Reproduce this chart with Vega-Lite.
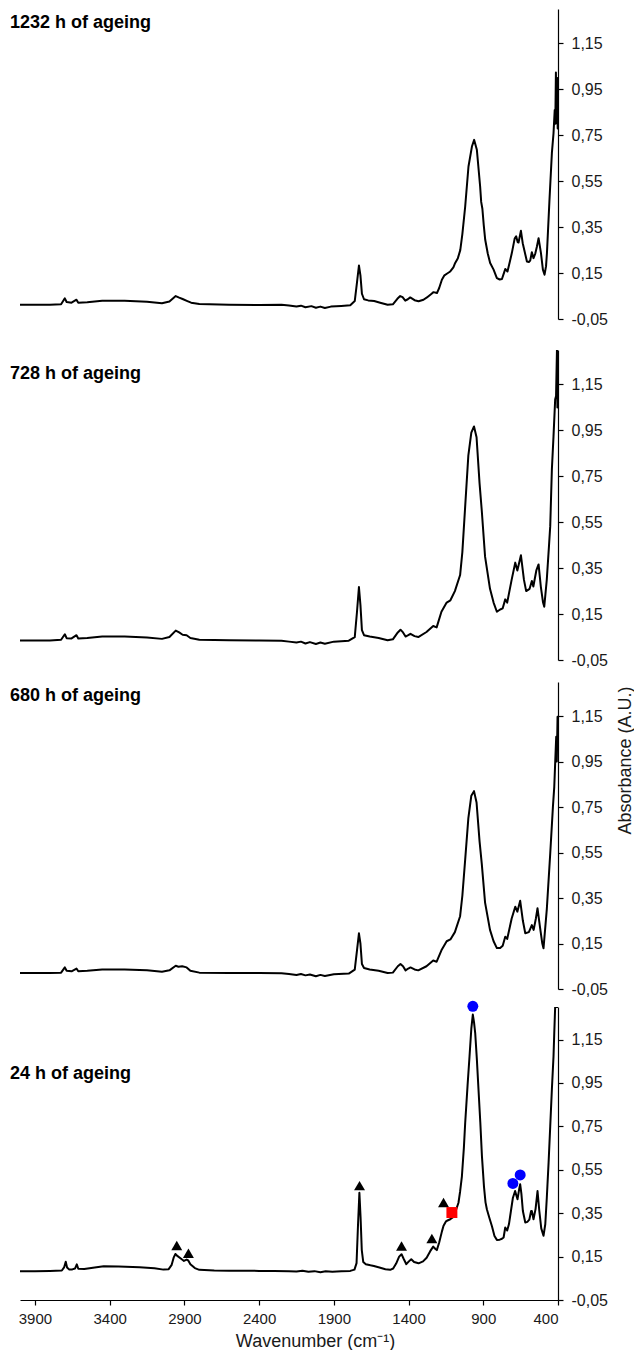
{
  "$schema": "https://vega.github.io/schema/vega-lite/v6.json",
  "padding": {"left": 10, "top": 9, "right": 0, "bottom": 0},
  "config": {
    "font": "Liberation Sans",
    "view": {"stroke": null},
    "axis": {"labelFont": "Liberation Sans", "titleFont": "Liberation Sans", "grid": false, "domainColor": "black", "tickColor": "black", "labelColor": "#1a1a1a", "titleColor": "#1a1a1a", "labelFontSize": 15, "titleFontSize": 18, "titleFontWeight": "normal", "tickSize": 5, "domainWidth": 1.2, "tickWidth": 1.2},
    "axisY": {"labelFontSize": 16},
    "title": {"font": "Liberation Sans", "fontSize": 18, "fontWeight": "bold", "color": "black", "anchor": "start", "frame": "group", "baseline": "middle", "dx": -10}
  },
  "datasets": {
    "h1232": [
      {"wn": 4000, "a": 0.012}, {"wn": 3800, "a": 0.012}, {"wn": 3725, "a": 0.014}, {"wn": 3700, "a": 0.040}, {"wn": 3688, "a": 0.024},
      {"wn": 3655, "a": 0.021}, {"wn": 3622, "a": 0.034}, {"wn": 3610, "a": 0.021}, {"wn": 3550, "a": 0.023}, {"wn": 3450, "a": 0.029},
      {"wn": 3300, "a": 0.029}, {"wn": 3150, "a": 0.025}, {"wn": 3050, "a": 0.019}, {"wn": 3000, "a": 0.026}, {"wn": 2958, "a": 0.050},
      {"wn": 2935, "a": 0.043}, {"wn": 2912, "a": 0.037}, {"wn": 2880, "a": 0.028}, {"wn": 2855, "a": 0.021}, {"wn": 2800, "a": 0.015},
      {"wn": 2600, "a": 0.012}, {"wn": 2400, "a": 0.011}, {"wn": 2250, "a": 0.012}, {"wn": 2200, "a": 0.009}, {"wn": 2150, "a": 0.004},
      {"wn": 2120, "a": 0.008}, {"wn": 2090, "a": 0.001}, {"wn": 2050, "a": 0.006}, {"wn": 2020, "a": -0.001}, {"wn": 1990, "a": 0.004},
      {"wn": 1960, "a": -0.002}, {"wn": 1920, "a": 0.004}, {"wn": 1850, "a": 0.007}, {"wn": 1790, "a": 0.010}, {"wn": 1760, "a": 0.028},
      {"wn": 1745, "a": 0.110}, {"wn": 1732, "a": 0.183}, {"wn": 1722, "a": 0.140}, {"wn": 1712, "a": 0.060}, {"wn": 1698, "a": 0.036},
      {"wn": 1670, "a": 0.031}, {"wn": 1630, "a": 0.028}, {"wn": 1590, "a": 0.021}, {"wn": 1540, "a": 0.012}, {"wn": 1505, "a": 0.014},
      {"wn": 1475, "a": 0.038}, {"wn": 1456, "a": 0.050}, {"wn": 1440, "a": 0.045}, {"wn": 1422, "a": 0.030}, {"wn": 1405, "a": 0.036},
      {"wn": 1389, "a": 0.044}, {"wn": 1360, "a": 0.032}, {"wn": 1333, "a": 0.027}, {"wn": 1300, "a": 0.034}, {"wn": 1277, "a": 0.044},
      {"wn": 1250, "a": 0.058}, {"wn": 1233, "a": 0.067}, {"wn": 1210, "a": 0.063}, {"wn": 1195, "a": 0.085}, {"wn": 1177, "a": 0.121},
      {"wn": 1160, "a": 0.140}, {"wn": 1144, "a": 0.147}, {"wn": 1121, "a": 0.157}, {"wn": 1100, "a": 0.175}, {"wn": 1088, "a": 0.194},
      {"wn": 1070, "a": 0.215}, {"wn": 1054, "a": 0.250}, {"wn": 1040, "a": 0.320}, {"wn": 1021, "a": 0.440}, {"wn": 999, "a": 0.614},
      {"wn": 976, "a": 0.701}, {"wn": 961, "a": 0.730}, {"wn": 943, "a": 0.687}, {"wn": 921, "a": 0.527}, {"wn": 914, "a": 0.460},
      {"wn": 906, "a": 0.430}, {"wn": 897, "a": 0.360}, {"wn": 887, "a": 0.295}, {"wn": 870, "a": 0.235}, {"wn": 854, "a": 0.194},
      {"wn": 831, "a": 0.165}, {"wn": 809, "a": 0.128}, {"wn": 790, "a": 0.122}, {"wn": 775, "a": 0.124}, {"wn": 762, "a": 0.150},
      {"wn": 753, "a": 0.168}, {"wn": 738, "a": 0.157}, {"wn": 722, "a": 0.200}, {"wn": 709, "a": 0.237}, {"wn": 690, "a": 0.300},
      {"wn": 680, "a": 0.310}, {"wn": 670, "a": 0.285}, {"wn": 664, "a": 0.283}, {"wn": 648, "a": 0.334}, {"wn": 636, "a": 0.280},
      {"wn": 626, "a": 0.252}, {"wn": 608, "a": 0.200}, {"wn": 595, "a": 0.198}, {"wn": 586, "a": 0.204}, {"wn": 575, "a": 0.241},
      {"wn": 564, "a": 0.215}, {"wn": 552, "a": 0.235}, {"wn": 541, "a": 0.266}, {"wn": 530, "a": 0.302}, {"wn": 514, "a": 0.237},
      {"wn": 501, "a": 0.165}, {"wn": 490, "a": 0.143}, {"wn": 480, "a": 0.180}, {"wn": 474, "a": 0.237}, {"wn": 457, "a": 0.469},
      {"wn": 441, "a": 0.672}, {"wn": 430, "a": 0.759}, {"wn": 422, "a": 0.860}, {"wn": 418, "a": 0.800}, {"wn": 414, "a": 1.023},
      {"wn": 409, "a": 0.803}, {"wn": 405, "a": 0.999}, {"wn": 402, "a": 0.780}, {"wn": 400, "a": 0.900}
    ],
    "h728": [
      {"wn": 4000, "a": 0.035}, {"wn": 3800, "a": 0.035}, {"wn": 3725, "a": 0.038}, {"wn": 3700, "a": 0.062}, {"wn": 3688, "a": 0.045},
      {"wn": 3655, "a": 0.044}, {"wn": 3622, "a": 0.058}, {"wn": 3610, "a": 0.044}, {"wn": 3550, "a": 0.046}, {"wn": 3450, "a": 0.052},
      {"wn": 3300, "a": 0.052}, {"wn": 3150, "a": 0.048}, {"wn": 3050, "a": 0.042}, {"wn": 3000, "a": 0.050}, {"wn": 2958, "a": 0.078},
      {"wn": 2935, "a": 0.070}, {"wn": 2912, "a": 0.060}, {"wn": 2885, "a": 0.058}, {"wn": 2860, "a": 0.046}, {"wn": 2800, "a": 0.038},
      {"wn": 2600, "a": 0.036}, {"wn": 2400, "a": 0.035}, {"wn": 2250, "a": 0.034}, {"wn": 2200, "a": 0.030}, {"wn": 2150, "a": 0.026},
      {"wn": 2120, "a": 0.030}, {"wn": 2090, "a": 0.022}, {"wn": 2060, "a": 0.028}, {"wn": 2020, "a": 0.020}, {"wn": 1990, "a": 0.026},
      {"wn": 1960, "a": 0.021}, {"wn": 1900, "a": 0.030}, {"wn": 1800, "a": 0.034}, {"wn": 1760, "a": 0.050}, {"wn": 1745, "a": 0.160},
      {"wn": 1732, "a": 0.268}, {"wn": 1722, "a": 0.190}, {"wn": 1712, "a": 0.080}, {"wn": 1698, "a": 0.058}, {"wn": 1660, "a": 0.052},
      {"wn": 1600, "a": 0.046}, {"wn": 1540, "a": 0.036}, {"wn": 1505, "a": 0.040}, {"wn": 1472, "a": 0.070}, {"wn": 1454, "a": 0.082},
      {"wn": 1437, "a": 0.070}, {"wn": 1420, "a": 0.052}, {"wn": 1402, "a": 0.058}, {"wn": 1387, "a": 0.064}, {"wn": 1360, "a": 0.054},
      {"wn": 1335, "a": 0.050}, {"wn": 1280, "a": 0.072}, {"wn": 1235, "a": 0.098}, {"wn": 1212, "a": 0.092}, {"wn": 1180, "a": 0.160},
      {"wn": 1145, "a": 0.200}, {"wn": 1120, "a": 0.210}, {"wn": 1090, "a": 0.250}, {"wn": 1055, "a": 0.320}, {"wn": 1040, "a": 0.420},
      {"wn": 1021, "a": 0.620}, {"wn": 1000, "a": 0.840}, {"wn": 980, "a": 0.940}, {"wn": 962, "a": 0.967}, {"wn": 945, "a": 0.920},
      {"wn": 925, "a": 0.720}, {"wn": 910, "a": 0.600}, {"wn": 888, "a": 0.400}, {"wn": 855, "a": 0.260}, {"wn": 831, "a": 0.200},
      {"wn": 809, "a": 0.160}, {"wn": 787, "a": 0.170}, {"wn": 770, "a": 0.175}, {"wn": 753, "a": 0.214}, {"wn": 740, "a": 0.200},
      {"wn": 710, "a": 0.300}, {"wn": 686, "a": 0.374}, {"wn": 672, "a": 0.340}, {"wn": 648, "a": 0.406}, {"wn": 628, "a": 0.300},
      {"wn": 613, "a": 0.250}, {"wn": 590, "a": 0.260}, {"wn": 575, "a": 0.294}, {"wn": 565, "a": 0.270}, {"wn": 545, "a": 0.340},
      {"wn": 530, "a": 0.366}, {"wn": 515, "a": 0.270}, {"wn": 500, "a": 0.200}, {"wn": 492, "a": 0.182}, {"wn": 475, "a": 0.300},
      {"wn": 460, "a": 0.450}, {"wn": 452, "a": 0.533}, {"wn": 441, "a": 0.780}, {"wn": 430, "a": 0.925}, {"wn": 419, "a": 1.084},
      {"wn": 413, "a": 1.100}, {"wn": 407, "a": 1.300}, {"wn": 404, "a": 1.050}, {"wn": 402, "a": 1.300}, {"wn": 400, "a": 1.150}
    ],
    "h680": [
      {"wn": 4000, "a": 0.020}, {"wn": 3800, "a": 0.020}, {"wn": 3725, "a": 0.022}, {"wn": 3700, "a": 0.045}, {"wn": 3688, "a": 0.030},
      {"wn": 3655, "a": 0.028}, {"wn": 3622, "a": 0.040}, {"wn": 3610, "a": 0.028}, {"wn": 3550, "a": 0.030}, {"wn": 3450, "a": 0.036},
      {"wn": 3300, "a": 0.036}, {"wn": 3150, "a": 0.032}, {"wn": 3050, "a": 0.026}, {"wn": 3000, "a": 0.032}, {"wn": 2958, "a": 0.052},
      {"wn": 2940, "a": 0.048}, {"wn": 2915, "a": 0.050}, {"wn": 2885, "a": 0.045}, {"wn": 2860, "a": 0.030}, {"wn": 2800, "a": 0.022},
      {"wn": 2600, "a": 0.020}, {"wn": 2400, "a": 0.020}, {"wn": 2250, "a": 0.019}, {"wn": 2200, "a": 0.016}, {"wn": 2150, "a": 0.012},
      {"wn": 2120, "a": 0.016}, {"wn": 2090, "a": 0.010}, {"wn": 2060, "a": 0.014}, {"wn": 2020, "a": 0.006}, {"wn": 1990, "a": 0.012},
      {"wn": 1960, "a": 0.007}, {"wn": 1900, "a": 0.015}, {"wn": 1800, "a": 0.018}, {"wn": 1760, "a": 0.035}, {"wn": 1745, "a": 0.120},
      {"wn": 1732, "a": 0.195}, {"wn": 1722, "a": 0.150}, {"wn": 1712, "a": 0.060}, {"wn": 1698, "a": 0.042}, {"wn": 1660, "a": 0.036},
      {"wn": 1600, "a": 0.030}, {"wn": 1540, "a": 0.020}, {"wn": 1505, "a": 0.022}, {"wn": 1472, "a": 0.050}, {"wn": 1454, "a": 0.060},
      {"wn": 1437, "a": 0.050}, {"wn": 1420, "a": 0.032}, {"wn": 1402, "a": 0.040}, {"wn": 1387, "a": 0.045}, {"wn": 1360, "a": 0.036},
      {"wn": 1335, "a": 0.032}, {"wn": 1280, "a": 0.050}, {"wn": 1235, "a": 0.075}, {"wn": 1212, "a": 0.070}, {"wn": 1180, "a": 0.120},
      {"wn": 1145, "a": 0.160}, {"wn": 1120, "a": 0.168}, {"wn": 1090, "a": 0.200}, {"wn": 1055, "a": 0.270}, {"wn": 1040, "a": 0.360},
      {"wn": 1021, "a": 0.520}, {"wn": 1000, "a": 0.700}, {"wn": 980, "a": 0.800}, {"wn": 962, "a": 0.820}, {"wn": 945, "a": 0.770},
      {"wn": 925, "a": 0.600}, {"wn": 910, "a": 0.500}, {"wn": 888, "a": 0.330}, {"wn": 855, "a": 0.210}, {"wn": 831, "a": 0.160},
      {"wn": 809, "a": 0.130}, {"wn": 787, "a": 0.130}, {"wn": 770, "a": 0.140}, {"wn": 753, "a": 0.180}, {"wn": 740, "a": 0.170},
      {"wn": 710, "a": 0.260}, {"wn": 686, "a": 0.312}, {"wn": 672, "a": 0.290}, {"wn": 653, "a": 0.338}, {"wn": 635, "a": 0.250},
      {"wn": 619, "a": 0.195}, {"wn": 595, "a": 0.200}, {"wn": 575, "a": 0.231}, {"wn": 563, "a": 0.210}, {"wn": 548, "a": 0.260},
      {"wn": 537, "a": 0.305}, {"wn": 520, "a": 0.220}, {"wn": 505, "a": 0.150}, {"wn": 497, "a": 0.129}, {"wn": 475, "a": 0.300},
      {"wn": 452, "a": 0.546}, {"wn": 434, "a": 0.751}, {"wn": 425, "a": 0.839}, {"wn": 419, "a": 0.942}, {"wn": 412, "a": 1.059},
      {"wn": 408, "a": 0.950}, {"wn": 403, "a": 1.147}, {"wn": 400, "a": 1.000}
    ],
    "h24": [
      {"wn": 4000, "a": 0.083}, {"wn": 3900, "a": 0.082}, {"wn": 3800, "a": 0.084}, {"wn": 3720, "a": 0.086}, {"wn": 3705, "a": 0.100},
      {"wn": 3694, "a": 0.126}, {"wn": 3685, "a": 0.100}, {"wn": 3670, "a": 0.090}, {"wn": 3650, "a": 0.091}, {"wn": 3632, "a": 0.095},
      {"wn": 3620, "a": 0.114}, {"wn": 3610, "a": 0.094}, {"wn": 3570, "a": 0.093}, {"wn": 3500, "a": 0.100}, {"wn": 3440, "a": 0.106},
      {"wn": 3340, "a": 0.104}, {"wn": 3200, "a": 0.101}, {"wn": 3100, "a": 0.096}, {"wn": 3040, "a": 0.090}, {"wn": 3005, "a": 0.092},
      {"wn": 2985, "a": 0.112}, {"wn": 2972, "a": 0.145}, {"wn": 2960, "a": 0.162}, {"wn": 2945, "a": 0.152}, {"wn": 2922, "a": 0.140},
      {"wn": 2903, "a": 0.130}, {"wn": 2885, "a": 0.136}, {"wn": 2874, "a": 0.132}, {"wn": 2860, "a": 0.115}, {"wn": 2830, "a": 0.097},
      {"wn": 2800, "a": 0.089}, {"wn": 2700, "a": 0.086}, {"wn": 2600, "a": 0.085}, {"wn": 2500, "a": 0.085}, {"wn": 2400, "a": 0.084},
      {"wn": 2300, "a": 0.084}, {"wn": 2200, "a": 0.083}, {"wn": 2150, "a": 0.081}, {"wn": 2110, "a": 0.085}, {"wn": 2070, "a": 0.080},
      {"wn": 2030, "a": 0.083}, {"wn": 1990, "a": 0.078}, {"wn": 1955, "a": 0.082}, {"wn": 1910, "a": 0.080}, {"wn": 1850, "a": 0.082},
      {"wn": 1790, "a": 0.084}, {"wn": 1762, "a": 0.090}, {"wn": 1748, "a": 0.120}, {"wn": 1738, "a": 0.300}, {"wn": 1729, "a": 0.444},
      {"wn": 1721, "a": 0.330}, {"wn": 1713, "a": 0.180}, {"wn": 1703, "a": 0.125}, {"wn": 1686, "a": 0.115}, {"wn": 1655, "a": 0.110},
      {"wn": 1632, "a": 0.107}, {"wn": 1595, "a": 0.100}, {"wn": 1555, "a": 0.092}, {"wn": 1523, "a": 0.089}, {"wn": 1503, "a": 0.095},
      {"wn": 1483, "a": 0.118}, {"wn": 1463, "a": 0.150}, {"wn": 1447, "a": 0.161}, {"wn": 1433, "a": 0.140}, {"wn": 1415, "a": 0.115},
      {"wn": 1398, "a": 0.128}, {"wn": 1382, "a": 0.138}, {"wn": 1363, "a": 0.125}, {"wn": 1333, "a": 0.119}, {"wn": 1303, "a": 0.128},
      {"wn": 1279, "a": 0.145}, {"wn": 1255, "a": 0.175}, {"wn": 1235, "a": 0.196}, {"wn": 1220, "a": 0.185}, {"wn": 1211, "a": 0.180},
      {"wn": 1195, "a": 0.215}, {"wn": 1177, "a": 0.265}, {"wn": 1166, "a": 0.292}, {"wn": 1150, "a": 0.312}, {"wn": 1143, "a": 0.315},
      {"wn": 1121, "a": 0.322}, {"wn": 1105, "a": 0.330}, {"wn": 1088, "a": 0.353}, {"wn": 1066, "a": 0.398}, {"wn": 1055, "a": 0.450},
      {"wn": 1043, "a": 0.520}, {"wn": 1030, "a": 0.650}, {"wn": 1021, "a": 0.767}, {"wn": 1005, "a": 0.940}, {"wn": 992, "a": 1.073},
      {"wn": 980, "a": 1.200}, {"wn": 970, "a": 1.265}, {"wn": 962, "a": 1.230}, {"wn": 954, "a": 1.180}, {"wn": 943, "a": 1.060},
      {"wn": 932, "a": 0.920}, {"wn": 920, "a": 0.770}, {"wn": 909, "a": 0.613}, {"wn": 895, "a": 0.470}, {"wn": 885, "a": 0.400},
      {"wn": 876, "a": 0.368}, {"wn": 860, "a": 0.330}, {"wn": 842, "a": 0.290}, {"wn": 825, "a": 0.245}, {"wn": 809, "a": 0.227},
      {"wn": 790, "a": 0.228}, {"wn": 775, "a": 0.232}, {"wn": 764, "a": 0.238}, {"wn": 753, "a": 0.284}, {"wn": 740, "a": 0.270},
      {"wn": 728, "a": 0.300}, {"wn": 715, "a": 0.360}, {"wn": 702, "a": 0.420}, {"wn": 687, "a": 0.452}, {"wn": 678, "a": 0.430},
      {"wn": 671, "a": 0.414}, {"wn": 660, "a": 0.460}, {"wn": 653, "a": 0.483}, {"wn": 645, "a": 0.440}, {"wn": 635, "a": 0.360},
      {"wn": 619, "a": 0.307}, {"wn": 605, "a": 0.310}, {"wn": 592, "a": 0.320}, {"wn": 580, "a": 0.360}, {"wn": 575, "a": 0.360},
      {"wn": 564, "a": 0.322}, {"wn": 550, "a": 0.370}, {"wn": 537, "a": 0.452}, {"wn": 525, "a": 0.360}, {"wn": 512, "a": 0.280},
      {"wn": 497, "a": 0.246}, {"wn": 485, "a": 0.300}, {"wn": 475, "a": 0.420}, {"wn": 463, "a": 0.583}, {"wn": 452, "a": 0.750},
      {"wn": 441, "a": 0.920}, {"wn": 430, "a": 1.073}, {"wn": 425, "a": 1.180}, {"wn": 419, "a": 1.300}, {"wn": 400, "a": 1.300}
    ],
    "bands24": [
      {"wn": 2951, "a": 0.201, "kind": "organic"},
      {"wn": 2873, "a": 0.165, "kind": "organic"},
      {"wn": 1728, "a": 0.477, "kind": "organic"},
      {"wn": 1447, "a": 0.199, "kind": "organic"},
      {"wn": 1244, "a": 0.233, "kind": "organic"},
      {"wn": 1166, "a": 0.399, "kind": "organic"},
      {"wn": 1110, "a": 0.353, "kind": "sulfate"},
      {"wn": 970, "a": 1.303, "kind": "silicate"},
      {"wn": 702, "a": 0.487, "kind": "silicate"},
      {"wn": 653, "a": 0.526, "kind": "silicate"}
    ]
  },
  "vconcat": [
    {
      "width": 538,
      "height": 310,
      "title": {"text": "1232 h of ageing", "offset": -23},
      "data": {"name": "h1232"},
      "mark": {"type": "line", "color": "black", "strokeWidth": 2, "strokeJoin": "round", "clip": true},
      "encoding": {
        "x": {"field": "wn", "type": "quantitative", "scale": {"domain": [4000, 400], "nice": false, "zero": false}, "axis": null},
        "y": {"field": "a", "type": "quantitative", "scale": {"domain": [-0.05, 1.3], "nice": false, "zero": false},
          "axis": {"orient": "right", "title": null, "values": [-0.05, 0.15, 0.35, 0.55, 0.75, 0.95, 1.15], "labelPadding": 8,
            "labelExpr": "replace(replace(format(datum.value, '.2f'), '.', ','), '\u2212', '-')"}}
      }
    },
    {
      "spacing": 22,
      "bounds": "flush",
      "vconcat": [
        {
          "width": 538,
          "height": 310,
          "title": {"text": "728 h of ageing", "offset": -33},
          "data": {"name": "h728"},
          "mark": {"type": "line", "color": "black", "strokeWidth": 2, "strokeJoin": "round", "clip": true},
          "encoding": {
            "x": {"field": "wn", "type": "quantitative", "scale": {"domain": [4000, 400], "nice": false, "zero": false}, "axis": null},
            "y": {"field": "a", "type": "quantitative", "scale": {"domain": [-0.05, 1.3], "nice": false, "zero": false},
              "axis": {"orient": "right", "title": null, "values": [-0.05, 0.15, 0.35, 0.55, 0.75, 0.95, 1.15], "labelPadding": 8,
                "labelExpr": "replace(replace(format(datum.value, '.2f'), '.', ','), '\u2212', '-')"}}
          }
        },
        {
          "spacing": 18,
          "bounds": "flush",
          "vconcat": [
            {
              "width": 538,
              "height": 307,
              "title": {"text": "680 h of ageing", "offset": -23},
              "data": {"name": "h680"},
              "mark": {"type": "line", "color": "black", "strokeWidth": 2, "strokeJoin": "round", "clip": true},
              "encoding": {
                "x": {"field": "wn", "type": "quantitative", "scale": {"domain": [4000, 400], "nice": false, "zero": false}, "axis": null},
                "y": {"field": "a", "type": "quantitative", "scale": {"domain": [-0.05, 1.3], "nice": false, "zero": false},
                  "axis": {"orient": "right", "title": "Absorbance (A.U.)", "titleAngle": -90, "titleX": 67, "titleY": 78,
                    "titleAlign": "center", "titleBaseline": "middle",
                    "values": [-0.05, 0.15, 0.35, 0.55, 0.75, 0.95, 1.15], "labelPadding": 8,
                    "labelExpr": "replace(replace(format(datum.value, '.2f'), '.', ','), '\u2212', '-')"}}
              }
            },
            {
              "width": 538,
              "height": 293,
              "title": {"text": "24 h of ageing", "offset": -82},
              "layer": [
                {
                  "data": {"name": "h24"},
                  "mark": {"type": "line", "color": "black", "strokeWidth": 2, "strokeJoin": "round", "clip": true},
                  "encoding": {
                    "x": {"field": "wn", "type": "quantitative", "scale": {"domain": [4000, 400], "nice": false, "zero": false},
                      "axis": {"title": "Wavenumber (cm\u207b\u00b9)", "values": [3900, 3400, 2900, 2400, 1900, 1400, 900, 400], "format": "d",
                        "labelPadding": 6, "titlePadding": 6, "titleX": 295}},
                    "y": {"field": "a", "type": "quantitative", "scale": {"domain": [-0.05, 1.3], "nice": false, "zero": false},
                      "axis": {"orient": "right", "title": null, "values": [-0.05, 0.15, 0.35, 0.55, 0.75, 0.95, 1.15], "labelPadding": 8,
                        "labelExpr": "replace(replace(format(datum.value, '.2f'), '.', ','), '\u2212', '-')"}}
                  }
                },
                {
                  "data": {"name": "bands24"},
                  "mark": {"type": "point", "filled": true, "opacity": 1, "size": 120},
                  "encoding": {
                    "x": {"field": "wn", "type": "quantitative"},
                    "y": {"field": "a", "type": "quantitative"},
                    "shape": {"field": "kind", "type": "nominal", "legend": null,
                      "scale": {"domain": ["organic", "sulfate", "silicate"], "range": ["triangle-up", "square", "circle"]}},
                    "color": {"field": "kind", "type": "nominal", "legend": null,
                      "scale": {"domain": ["organic", "sulfate", "silicate"], "range": ["#000000", "#ff0000", "#0000ff"]}}
                  }
                }
              ]
            }
          ]
        }
      ]
    }
  ],
  "spacing": 31,
  "bounds": "flush"
}
